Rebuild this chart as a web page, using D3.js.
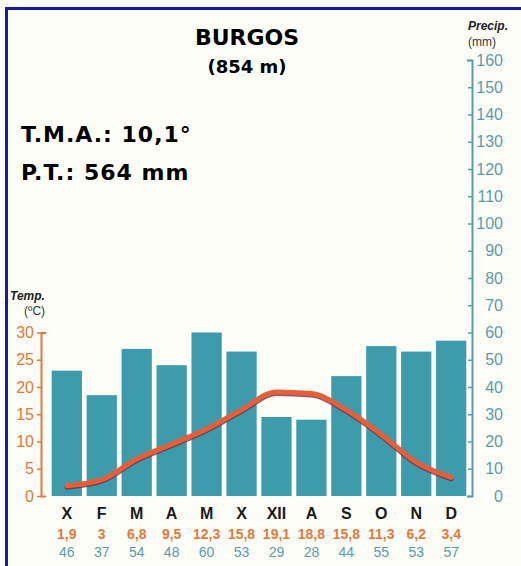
<!DOCTYPE html>
<html>
<head>
<meta charset="utf-8">
<script src="https://cdn.jsdelivr.net/npm/d3@7"></script>
<style>
	body { margin: 0; background: #fff; }
	svg { display: block; }
	text { font-family: "Liberation Sans", Arial, sans-serif; }
</style>
</head>
<body>
<div id="chart"></div>
<script>
const months = ['X', 'F', 'M', 'A', 'M', 'X', 'XII', 'A', 'S', 'O', 'N', 'D'];
const temps = [1.9, 3, 6.8, 9.5, 12.3, 15.8, 19.1, 18.8, 15.8, 11.3, 6.2, 3.4];
const precips = [46, 37, 54, 48, 60, 53, 29, 28, 44, 55, 53, 57];
const tempTicks = [0, 5, 10, 15, 20, 25, 30];
const precipTicks = [0, 10, 20, 30, 40, 50, 60, 70, 80, 90, 100, 110, 120, 130, 140, 150, 160];

const width = 521, height = 566;
const colors = {
	bar: '#3d9bab',
	teal: '#5a9ca8',
	orange: '#e07a3c',
	line: '#e5603a',
	shadow: '#7a3040',
	border: '#1a1a9a'
};

const data = months.map((m, i) => ({ i: i, month: m, temp: temps[i], precip: precips[i] }));

const scale = {
	months: d3.scaleBand().domain(d3.range(12)).range([51, 467]).paddingInner(0.135).paddingOuter(0.02),
	precip: d3.scaleLinear().domain([0, 160]).range([496, 60]),
	temp: d3.scaleLinear().domain([0, 30])
};
scale.temp.range([496, scale.precip(60)]);

const fmt = (v) => String(v).replace('.', ',');

const $svg = d3.select('#chart').append('svg')
	.attr('width', width)
	.attr('height', height);

$svg.append('rect')
	.attr('width', width).attr('height', height)
	.attr('fill', '#fdfdf8');

// frame
$svg.append('path')
	.attr('d', `M6.5,${height} V8.5 H${width}`)
	.attr('fill', 'none')
	.attr('stroke', colors.border)
	.attr('stroke-width', 3);

// titles
$svg.append('text')
	.attr('x', 247).attr('y', 45)
	.attr('text-anchor', 'middle')
	.style('font-family', '"DejaVu Sans", sans-serif')
	.style('font-weight', 'bold')
	.style('font-size', '22px')
	.text('BURGOS');

$svg.append('text')
	.attr('x', 247).attr('y', 73)
	.attr('text-anchor', 'middle')
	.style('font-family', '"DejaVu Sans", sans-serif')
	.style('font-weight', 'bold')
	.style('font-size', '18px')
	.text('(854 m)');

$svg.append('text')
	.attr('x', 21).attr('y', 142)
	.style('font-family', '"DejaVu Sans", sans-serif')
	.style('font-weight', 'bold')
	.style('font-size', '22px')
	.style('letter-spacing', '1px')
	.text('T.M.A.: 10,1°');

$svg.append('text')
	.attr('x', 21).attr('y', 180)
	.style('font-family', '"DejaVu Sans", sans-serif')
	.style('font-weight', 'bold')
	.style('font-size', '22px')
	.style('letter-spacing', '1px')
	.text('P.T.: 564 mm');

// axis titles
$svg.append('text')
	.attr('x', 10).attr('y', 300)
	.style('font-size', '12px').style('font-weight', 'bold').style('font-style', 'italic')
	.attr('fill', '#222')
	.text('Temp.');
$svg.append('text')
	.attr('x', 24).attr('y', 315)
	.style('font-size', '12px')
	.attr('fill', '#333')
	.text('(ºC)');

$svg.append('text')
	.attr('x', 468).attr('y', 30)
	.style('font-size', '12px').style('font-weight', 'bold').style('font-style', 'italic')
	.attr('fill', '#222')
	.text('Precip.');
$svg.append('text')
	.attr('x', 468).attr('y', 46)
	.style('font-size', '12px')
	.attr('fill', '#333')
	.text('(mm)');

// bars
$svg.append('g')
	.selectAll('rect')
	.data(data)
	.enter()
	.append('rect')
	.attr('x', (d) => scale.months(d.i))
	.attr('y', (d) => scale.precip(d.precip))
	.attr('width', scale.months.bandwidth())
	.attr('height', (d) => scale.precip(0) - scale.precip(d.precip))
	.attr('fill', colors.bar);

// temperature line
const cx = (d) => scale.months(d.i) + scale.months.bandwidth() / 2;
const lineBuilder = d3.line()
	.x(cx)
	.y((d) => scale.temp(d.temp))
	.curve(d3.curveMonotoneX);

$svg.append('path')
	.attr('d', lineBuilder(data))
	.attr('transform', 'translate(0,1.5)')
	.attr('fill', 'none')
	.attr('stroke', colors.shadow)
	.attr('stroke-width', 5)
	.attr('stroke-linecap', 'round')
	.attr('opacity', 0.8);

$svg.append('path')
	.attr('d', lineBuilder(data))
	.attr('fill', 'none')
	.attr('stroke', colors.line)
	.attr('stroke-width', 5)
	.attr('stroke-linecap', 'round')
	.attr('stroke-linejoin', 'round');

// left axis (temperature)
const $tAxis = $svg.append('g')
	.attr('transform', 'translate(41,0)')
	.call(d3.axisLeft(scale.temp).tickValues(tempTicks).tickSizeInner(4).tickSizeOuter(-5).tickPadding(3));
$tAxis.select('.domain').attr('stroke', colors.orange).attr('stroke-width', 2);
$tAxis.selectAll('.tick line').attr('stroke', colors.orange).attr('stroke-width', 1.5);
$tAxis.selectAll('.tick text')
	.attr('fill', colors.orange)
	.style('font-size', '16px')
	.style('font-family', '"Liberation Sans", Arial, sans-serif');

// right axis (precipitation)
const $pAxis = $svg.append('g')
	.attr('transform', 'translate(472,0)')
	.call(d3.axisRight(scale.precip).tickValues(precipTicks).tickSizeInner(-4).tickSizeOuter(-5).tickPadding(6));
$pAxis.select('.domain').attr('stroke', colors.teal).attr('stroke-width', 2);
$pAxis.selectAll('.tick line').attr('stroke', colors.teal).attr('stroke-width', 1.5);
$pAxis.selectAll('.tick text')
	.attr('fill', colors.teal)
	.attr('x', 31)
	.attr('text-anchor', 'end')
	.style('font-size', '16px')
	.style('font-family', '"Liberation Sans", Arial, sans-serif');

// month labels and values
const $labels = $svg.append('g')
	.selectAll('g')
	.data(data)
	.enter()
	.append('g')
	.attr('transform', (d) => `translate(${cx(d)},0)`)
	.attr('text-anchor', 'middle');

$labels.append('text')
	.attr('y', 519)
	.style('font-size', '16px').style('font-weight', 'bold')
	.attr('fill', '#1a1a1a')
	.text((d) => d.month);

$labels.append('text')
	.attr('y', 539)
	.style('font-size', '14px').style('font-weight', 'bold')
	.attr('fill', colors.orange)
	.text((d) => fmt(d.temp));

$labels.append('text')
	.attr('y', 557)
	.style('font-size', '14px')
	.attr('fill', colors.teal)
	.text((d) => d.precip);
</script>
</body>
</html>
